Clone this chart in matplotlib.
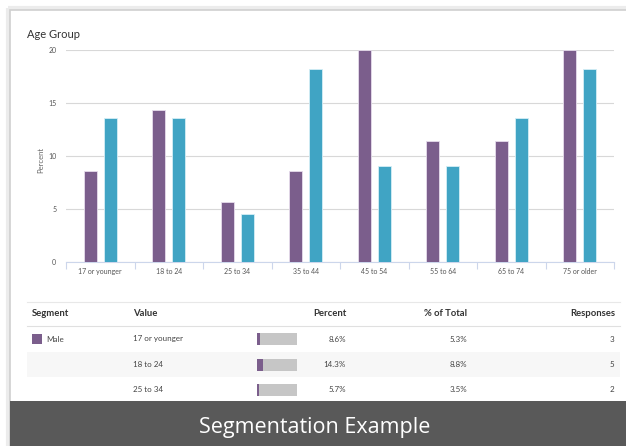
import numpy as np
import matplotlib.pyplot as plt
from matplotlib.patches import Rectangle

plt.rcParams['font.family'] = ['Lato', 'DejaVu Sans']

# chart data
age_groups = ['17 or younger', '18 to 24', '25 to 34', '35 to 44',
              '45 to 54', '55 to 64', '65 to 74', '75 or older']
male = [8.6, 14.3, 5.7, 8.6, 20.0, 11.4, 11.4, 20.0]
female = [13.6, 13.6, 4.5, 18.2, 9.1, 9.1, 13.6, 18.2]
y_ticks = [0, 5, 10, 15, 20]

# table data
table_headers = ['Segment', 'Value', 'Percent', '% of Total', 'Responses']
table_segment = 'Male'
table_values = ['17 or younger', '18 to 24', '25 to 34']
table_percent = [8.6, 14.3, 5.7]
table_total = [5.3, 8.8, 3.5]
table_responses = [3, 5, 2]

purple = '#7b5e8c'
teal = '#40a4c4'
W, H = 626, 446

fig = plt.figure(figsize=(W / 100, H / 100), dpi=100)

# background layer in pixel coordinates
bg = fig.add_axes([0, 0, 1, 1], zorder=0)
bg.set_xlim(0, W)
bg.set_ylim(H, 0)
bg.axis('off')

# card with soft shadow
bg.add_patch(Rectangle((8, 8), W + 20, H, facecolor='none', edgecolor='#ececec', lw=3))
bg.add_patch(Rectangle((10, 10), W + 20, H, facecolor='white', edgecolor='#d0d0d0', lw=1.2))

bg.text(27, 34, 'Age Group', fontsize=8, color='#333333', va='center', ha='left')
bg.text(41, 160, 'Percent', fontsize=5.5, color='#666666', rotation=90, va='center', ha='center')

# table
line_x0, line_x1 = 27, 620
bg.plot([line_x0, line_x1], [302, 302], color='#e8e8e8', lw=0.8)
bg.plot([line_x0, line_x1], [326, 326], color='#e0e0e0', lw=0.8)
header_x = [32, 133, 346, 467, 615]
header_ha = ['left', 'left', 'right', 'right', 'right']
for hx, ha, label in zip(header_x, header_ha, table_headers):
    bg.text(hx, 314, label, fontsize=6.8, fontweight='bold', color='#333333', ha=ha, va='center')

row_y = [339, 364.5, 389.5]
row_h = 25.5
bar_x0, bar_w, bar_h = 257, 40, 12
for i, y in enumerate(row_y):
    if i % 2 == 1:
        bg.add_patch(Rectangle((line_x0, y - row_h / 2), line_x1 - line_x0, row_h,
                               facecolor='#f7f7f7', edgecolor='none'))
    bg.text(133, y, table_values[i], fontsize=5.8, color='#444444', ha='left', va='center')
    bg.barh(y, bar_w, left=bar_x0, height=bar_h, color='#c6c6c6')
    bg.barh(y, bar_w * table_percent[i] / 100, left=bar_x0, height=bar_h, color=purple)
    bg.text(346, y, f'{table_percent[i]:.1f}%', fontsize=5.8, color='#444444', ha='right', va='center')
    bg.text(467, y, f'{table_total[i]:.1f}%', fontsize=5.8, color='#444444', ha='right', va='center')
    bg.text(614, y, str(table_responses[i]), fontsize=5.8, color='#444444', ha='right', va='center')

bg.add_patch(Rectangle((32, row_y[0] - 5), 10, 10, facecolor=purple, edgecolor='none'))
bg.text(46, row_y[0], table_segment, fontsize=5.8, color='#444444', ha='left', va='center')

# footer
bg.add_patch(Rectangle((10, 401), W, H - 401, facecolor='#595959', edgecolor='none'))
bg.text(315, 427, 'Segmentation Example', fontsize=15.5, color='white',
        ha='center', va='center', family=['Open Sans', 'DejaVu Sans'])

# main chart
ax = fig.add_axes([66 / W, 1 - 262 / H, 548 / W, 212 / H], zorder=1)
ax.patch.set_alpha(0)
x = np.arange(len(age_groups))
bw = 0.19
off = 0.146
ax.bar(x - off, male, width=bw, color=purple, edgecolor='#e6dcec', lw=0.6, zorder=3)
ax.bar(x + off, female, width=bw, color=teal, edgecolor='#d4eef6', lw=0.6, zorder=3)

ax.set_xlim(-0.5, len(age_groups) - 0.5)
ax.set_ylim(0, 20)
ax.set_yticks(y_ticks)
ax.set_yticklabels([str(t) for t in y_ticks])
ax.yaxis.grid(True, color='#d8d8d8', lw=0.8)
ax.set_axisbelow(True)
for s in ['top', 'right', 'left']:
    ax.spines[s].set_visible(False)
ax.spines['bottom'].set_color('#ccd6eb')
ax.spines['bottom'].set_linewidth(0.8)
ax.tick_params(axis='y', length=0, labelsize=5, labelcolor='#555555', pad=7)

ax.set_xticks(x)
ax.set_xticklabels(age_groups)
ax.tick_params(axis='x', length=0, labelsize=5, labelcolor='#555555', pad=4)
ax.set_xticks(np.arange(-0.5, len(age_groups)), minor=True)
ax.tick_params(axis='x', which='minor', length=5, color='#ccd6eb', width=0.8)

fig.savefig('out.png', dpi=100)
